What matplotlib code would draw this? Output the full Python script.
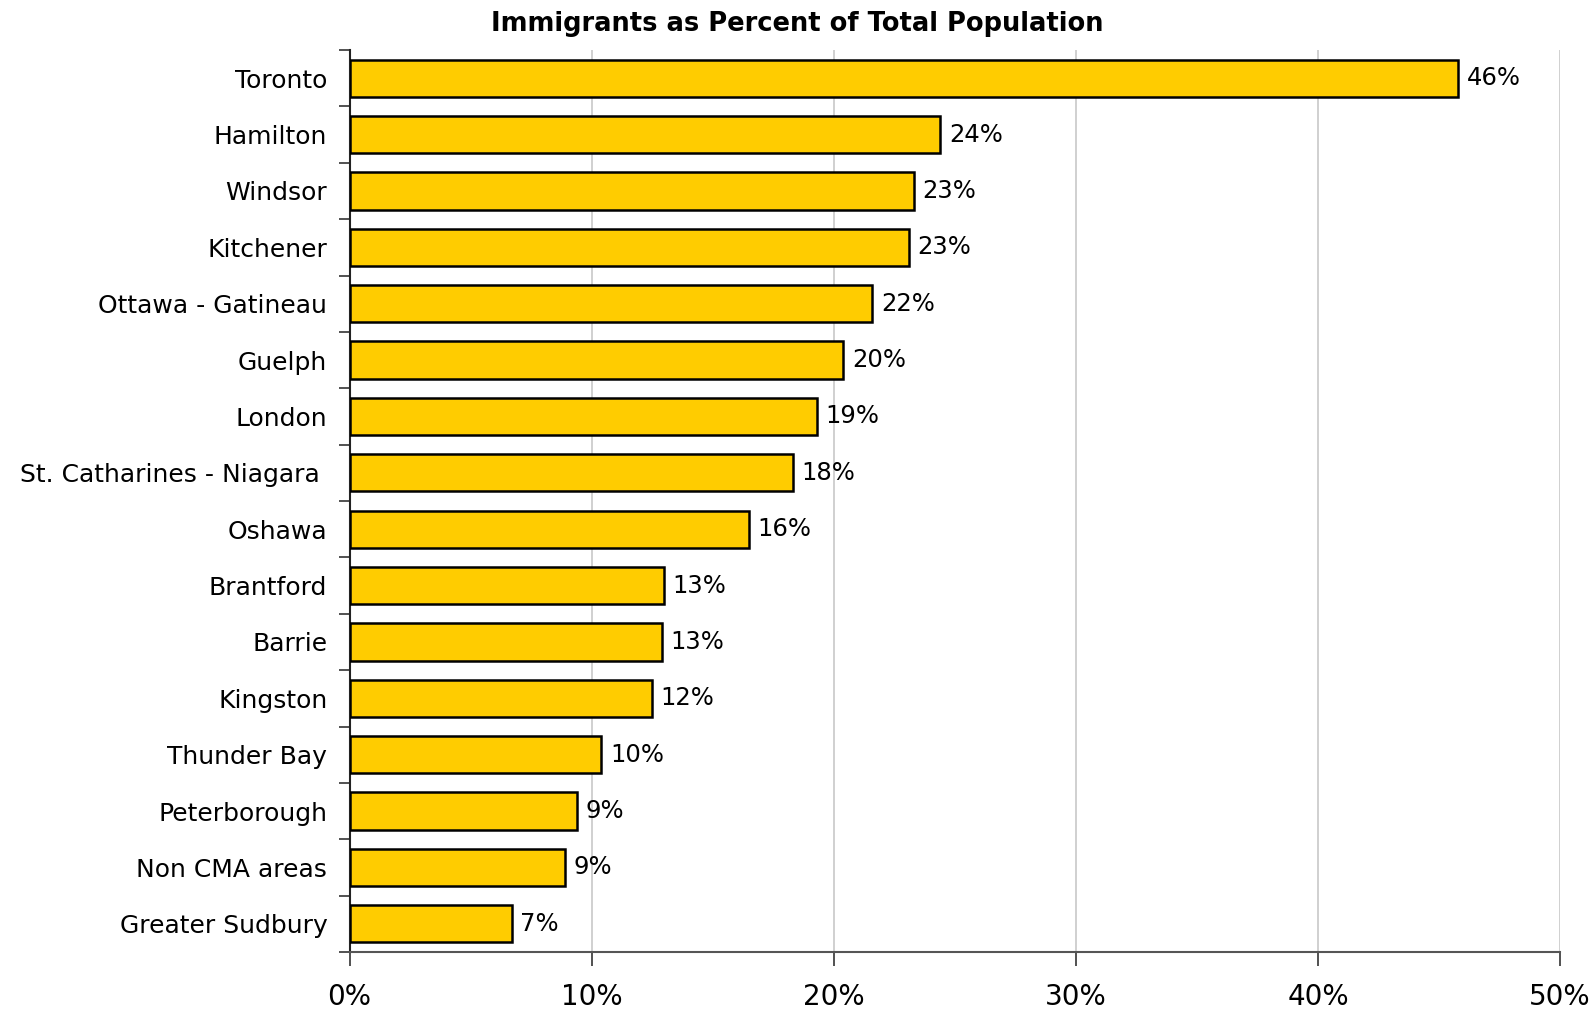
import numpy as np
import matplotlib
matplotlib.use("Agg")
import matplotlib.pyplot as plt

cities = ["Toronto", "Hamilton", "Windsor", "Kitchener", "Ottawa - Gatineau",
          "Guelph", "London", "St. Catharines - Niagara ", "Oshawa", "Brantford",
          "Barrie", "Kingston", "Thunder Bay", "Peterborough", "Non CMA areas",
          "Greater Sudbury"]
pct = [45.8, 24.4, 23.3, 23.1, 21.6, 20.4, 19.3, 18.3, 16.5, 13.0,
       12.9, 12.5, 10.4, 9.4, 8.9, 6.7]
xticks = [0, 10, 20, 30, 40, 50]

plt.rcParams['font.family'] = ['DejaVu Sans']

fig = plt.figure(figsize=(15.94, 10.10), dpi=100)
ax = fig.add_axes([0.2193, 0.0574, 0.9787 - 0.2193, 0.9505 - 0.0574])

n = len(cities)
y = np.arange(n)
ax.barh(y, pct, height=0.66, color="#ffcc00", edgecolor="black", linewidth=1.8, zorder=3)

for yi, v in zip(y, pct):
    ax.text(v + 0.35, yi, "%d%%" % round(v), va="center", ha="left", fontsize=17.5, color="black")

ax.set_ylim(n - 0.5, -0.5)
ax.set_xlim(0, 50)
ax.set_yticks(y)
ax.set_yticklabels(cities, fontsize=18)
ax.set_yticks(np.arange(n + 1) - 0.5, minor=True)
ax.tick_params(axis="y", which="major", length=0, pad=16)
ax.tick_params(axis="y", which="minor", length=8, width=1.2, color="#333333")

ax.set_xticks(xticks)
ax.set_xticklabels(["%d%%" % t for t in xticks], fontsize=20)
ax.tick_params(axis="x", length=10, width=1.2, color="#333333", pad=12)

ax.xaxis.grid(True, color="#c8c8c8", linewidth=1.2, zorder=0)
ax.set_axisbelow(True)
for s in ["top", "right"]:
    ax.spines[s].set_visible(False)
ax.spines["left"].set_linewidth(1.5)
ax.spines["left"].set_color("#222222")
ax.spines["bottom"].set_linewidth(1.5)
ax.spines["bottom"].set_color("#555555")

fig.text(0.5, 0.976, "Immigrants as Percent of Total Population", ha="center", va="center",
         fontsize=18.5, fontweight="bold")

fig.savefig("out.png", dpi=100)
